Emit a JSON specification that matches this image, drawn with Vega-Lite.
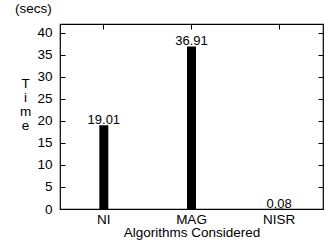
{
  "$schema": "https://vega.github.io/schema/vega-lite/v6.json",
  "width": 263,
  "height": 185,
  "autosize": {"type": "none"},
  "padding": {"left": 60, "top": 24, "right": 5, "bottom": 38},
  "background": "white",
  "config": {
    "font": "Liberation Sans",
    "view": {"stroke": "black", "strokeWidth": 1.2},
    "axis": {"grid": false, "labelFont": "Liberation Sans", "titleFont": "Liberation Sans", "labelFontSize": 13.5, "titleFontSize": 13.5, "labelColor": "black", "titleColor": "black", "tickColor": "black", "domain": false, "titleFontWeight": "normal"}
  },
  "title": {"text": "(secs)", "anchor": "start", "frame": "group", "orient": "top", "dx": -45, "dy": 12, "offset": 9, "baseline": "alphabetic", "fontSize": 13.5, "fontWeight": "normal", "font": "Liberation Sans", "color": "black"},
  "data": {"values": [
    {"alg": "NI", "time": 19.01, "label": "19.01"},
    {"alg": "MAG", "time": 36.91, "label": "36.91"},
    {"alg": "NISR", "time": 0.08, "label": "0.08"}
  ]},
  "resolve": {"axis": {"x": "independent", "y": "independent"}},
  "layer": [
    {
      "mark": {"type": "bar", "width": 9, "color": "black"},
      "encoding": {
        "x": {"field": "alg", "type": "nominal", "sort": null,
              "scale": {"paddingInner": 0, "paddingOuter": 0},
              "axis": {"orient": "bottom", "title": "Algorithms Considered", "labelAngle": 0, "ticks": false, "tickSize": 0, "labelPadding": 3, "titlePadding": 0}},
        "y": {"field": "time", "type": "quantitative",
              "scale": {"domain": [0, 42], "nice": false},
              "axis": {"orient": "left", "values": [0, 5, 10, 15, 20, 25, 30, 35, 40], "tickSize": -5, "labelPadding": 13,
                       "title": ["T", "i", "m", "e"], "titleAngle": 0, "titleAlign": "center", "titleBaseline": "top", "titleX": -35, "titleY": 52, "titleLineHeight": 14}}
      }
    },
    {
      "mark": {"type": "text", "baseline": "alphabetic", "dy": -1, "fontSize": 13, "color": "black", "font": "Liberation Sans"},
      "encoding": {
        "x": {"field": "alg", "type": "nominal", "sort": null,
              "axis": {"orient": "top", "title": null, "labels": false, "tickSize": -5}},
        "y": {"field": "time", "type": "quantitative",
              "axis": {"orient": "right", "title": null, "labels": false, "values": [0, 5, 10, 15, 20, 25, 30, 35, 40], "tickSize": -5}},
        "text": {"field": "label"}
      }
    }
  ]
}
